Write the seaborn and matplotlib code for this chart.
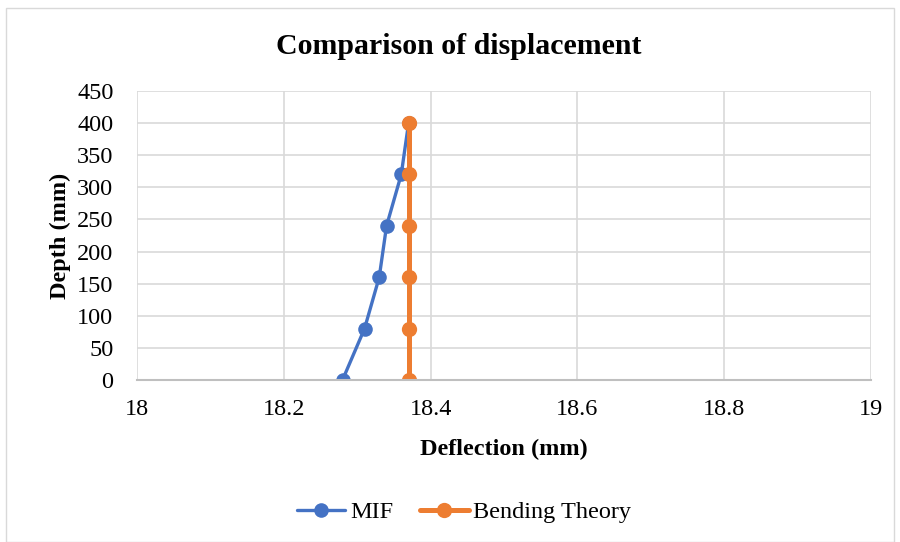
import matplotlib
matplotlib.use("Agg")
import matplotlib.pyplot as plt
import seaborn as sns
import pandas as pd
from matplotlib.patches import Rectangle

depth = [0, 80, 160, 240, 320, 400]
mif = [18.28, 18.31, 18.33, 18.34, 18.36, 18.37]
bending = [18.37, 18.37, 18.37, 18.37, 18.37, 18.37]
series_names = ["MIF", "Bending Theory"]
colors = ["#4472C4", "#ED7D31"]
xticks = [18, 18.2, 18.4, 18.6, 18.8, 19]
xticklabels = ["18", "18.2", "18.4", "18.6", "18.8", "19"]

df_mif = pd.DataFrame({"Deflection": mif, "Depth": depth})
df_bend = pd.DataFrame({"Deflection": bending, "Depth": depth})

sns.set_theme(style="white")
plt.rcParams["font.family"] = ["Liberation Serif", "DejaVu Serif"]
plt.rcParams["text.color"] = "black"
plt.rcParams["axes.labelcolor"] = "black"

fig = plt.figure(figsize=(9, 5.42), dpi=100)
ax = fig.add_axes([137/900, 1-380/542, (871-137)/900, (380-91)/542])

sns.lineplot(data=df_mif, x="Deflection", y="Depth", color=colors[0], label=series_names[0],
             sort=False, estimator=None, marker="o", markersize=10.5, markeredgewidth=0,
             linewidth=2.4, ax=ax)
sns.lineplot(data=df_bend, x="Deflection", y="Depth", color=colors[1], label=series_names[1],
             sort=False, estimator=None, marker="o", markersize=11, markeredgewidth=0,
             linewidth=3.6, ax=ax)

ax.set_xlim(18, 19)
ax.set_ylim(0, 450)
ax.set_xticks(xticks)
ax.set_xticklabels(xticklabels)
ax.set_yticks(range(0, 451, 50))
ax.grid(True, color="#d9d9d9", linewidth=1.2)
ax.set_axisbelow(True)
for s in ["top", "right", "left"]:
    ax.spines[s].set_visible(False)
ax.spines["bottom"].set_color("#bfbfbf")
ax.spines["bottom"].set_linewidth(1.5)
ax.tick_params(axis="both", labelsize=17.5, colors="black", length=0)
ax.tick_params(axis="x", pad=14)
ax.tick_params(axis="y", pad=17)
ax.set_xlabel("Deflection (mm)", fontsize=17.5, fontweight="bold", labelpad=13, color="black")
ax.set_ylabel("Depth (mm)", fontsize=17.5, fontweight="bold", labelpad=4, color="black")

fig.text(459/900, 1-46/542, "Comparison of displacement", fontsize=21.5, fontweight="bold",
         ha="center", va="center", color="black")

handles, labels = ax.get_legend_handles_labels()
ax.legend_.remove()
fig.legend(handles, labels, loc="center", bbox_to_anchor=(464/900, 1-512/542), ncol=2, frameon=False,
           fontsize=17.5, handlelength=2.0, columnspacing=1.1, handletextpad=0.2)

fig.patches.append(Rectangle((6/900, 0), 1-12/900, 1-8/542, transform=fig.transFigure,
                             fill=False, edgecolor="#d9d9d9", linewidth=1))

fig.savefig("out.png", dpi=100)
